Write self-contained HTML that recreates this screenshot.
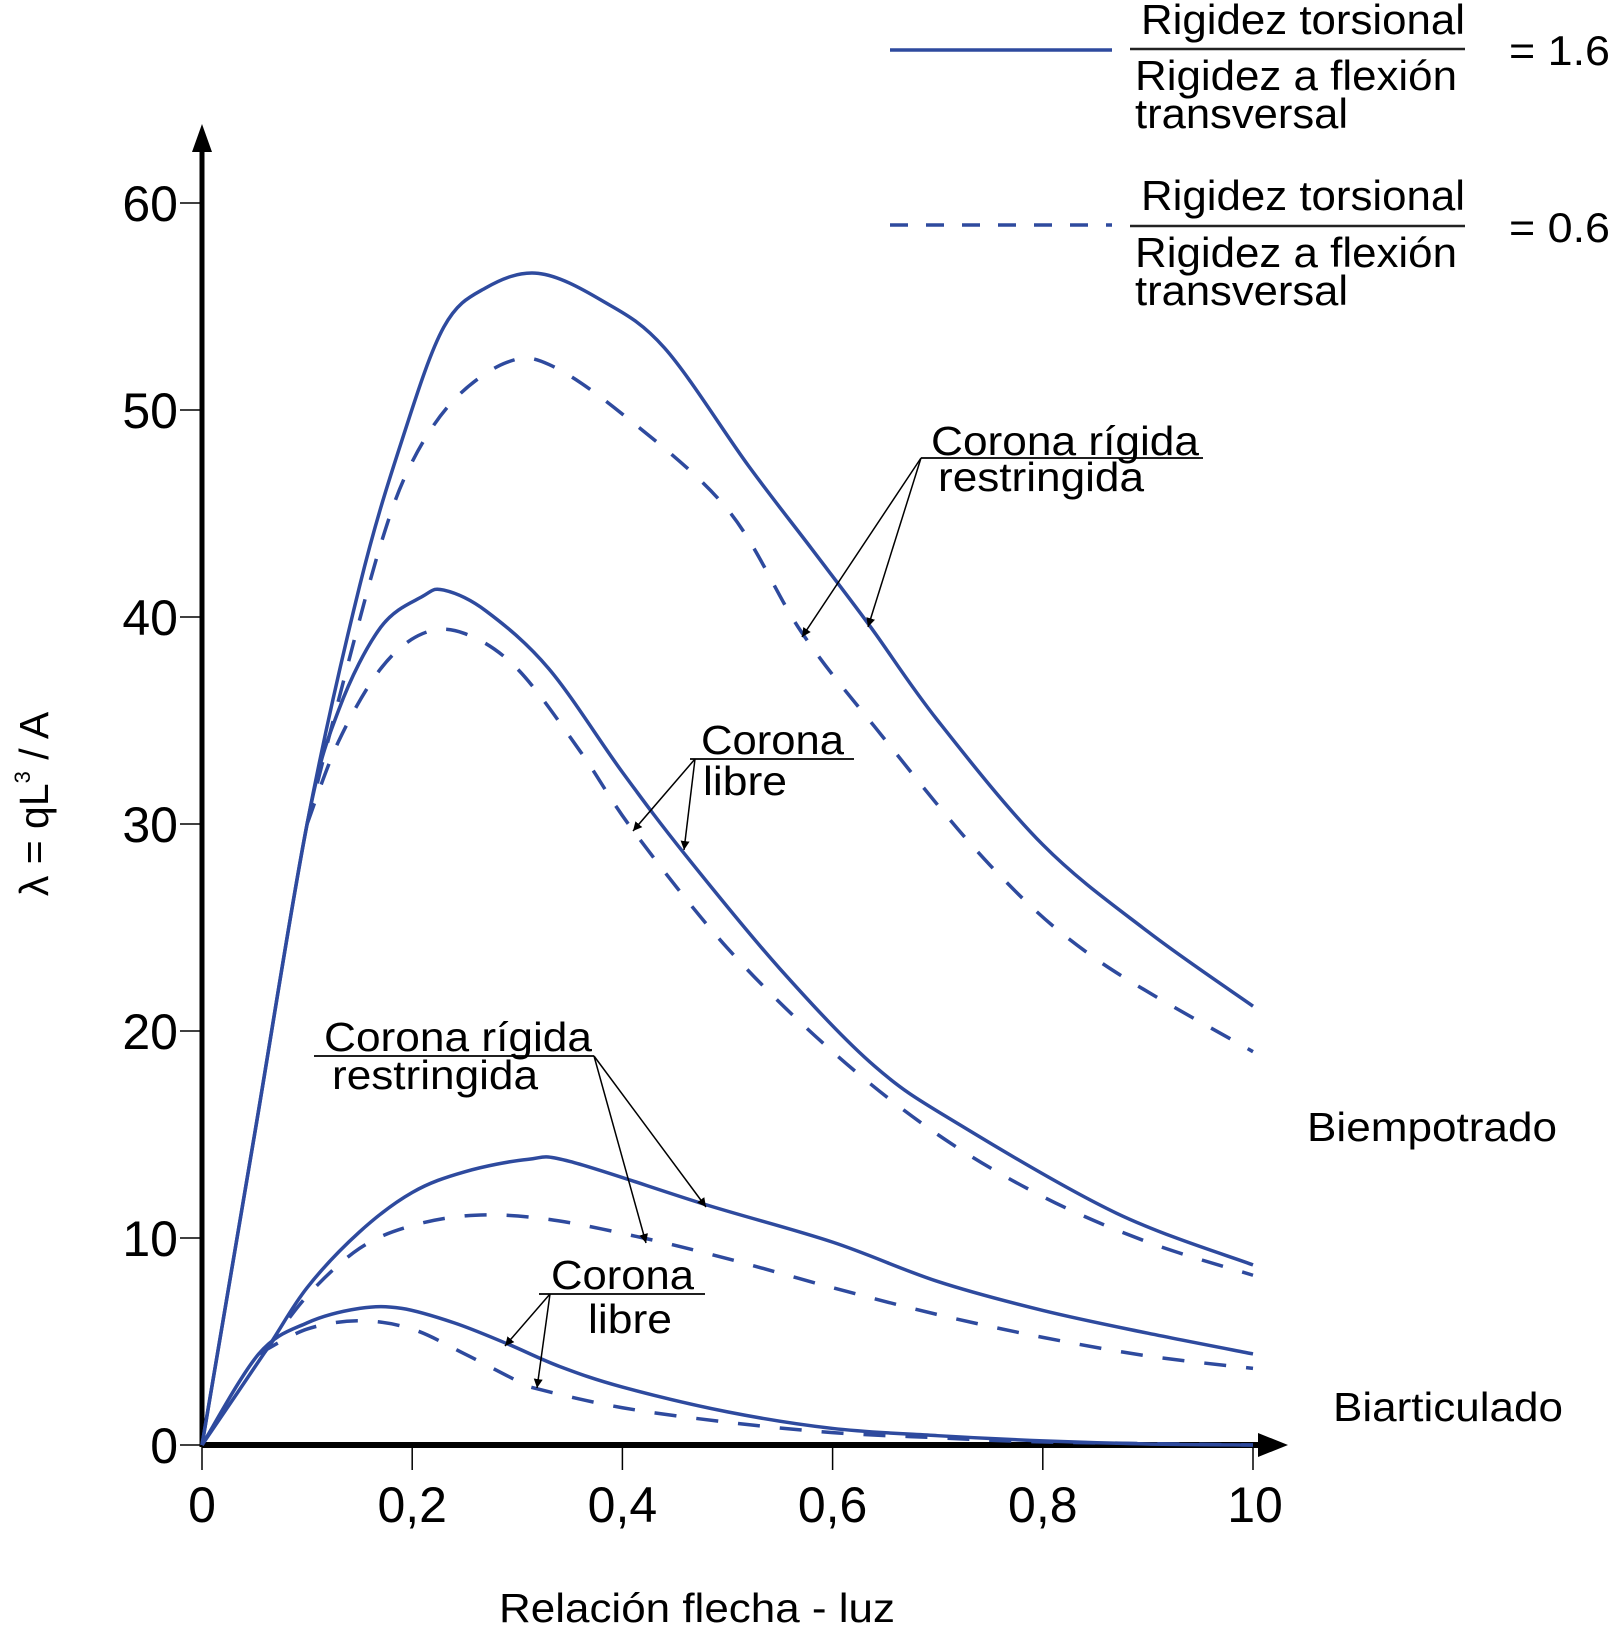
<!DOCTYPE html>
<html><head><meta charset="utf-8">
<style>
html,body{margin:0;padding:0;background:#fff;}
svg{display:block;font-family:"Liberation Sans",Arial,sans-serif;}
</style></head>
<body>
<svg id="chart" width="1610" height="1627" viewBox="0 0 1610 1627" xmlns="http://www.w3.org/2000/svg">
<defs>
<marker id="ah" viewBox="0 0 10 10" refX="10" refY="5" markerWidth="9" markerHeight="11" orient="auto" markerUnits="userSpaceOnUse"><path d="M0,0 L10,5 L0,10 z" fill="#000"/></marker>
</defs>
<g id="axes"></g>
<g id="series"></g>

<g>
<line x1="890" y1="50" x2="1112" y2="50" stroke="#2e4a9e" stroke-width="3.5"/>
<text x="1141" y="34" font-size="42" textLength="324" lengthAdjust="spacingAndGlyphs">Rigidez torsional</text>
<line x1="1130" y1="49" x2="1465" y2="49" stroke="#222" stroke-width="2.5"/>
<text x="1135" y="90" font-size="42" textLength="322" lengthAdjust="spacingAndGlyphs">Rigidez a flexión</text>
<text x="1135" y="128" font-size="42" textLength="213" lengthAdjust="spacingAndGlyphs">transversal</text>
<text x="1509" y="65" font-size="42" textLength="101" lengthAdjust="spacingAndGlyphs">= 1.6</text>

<line x1="890" y1="225" x2="1112" y2="225" stroke="#2e4a9e" stroke-width="3.5" stroke-dasharray="18,18"/>
<text x="1141" y="210" font-size="42" textLength="324" lengthAdjust="spacingAndGlyphs">Rigidez torsional</text>
<line x1="1130" y1="226" x2="1465" y2="226" stroke="#222" stroke-width="2.5"/>
<text x="1135" y="267" font-size="42" textLength="322" lengthAdjust="spacingAndGlyphs">Rigidez a flexión</text>
<text x="1135" y="305" font-size="42" textLength="213" lengthAdjust="spacingAndGlyphs">transversal</text>
<text x="1509" y="242" font-size="42" textLength="101" lengthAdjust="spacingAndGlyphs">= 0.6</text>
</g>

<g font-size="41">
<text x="931" y="455" textLength="268" lengthAdjust="spacingAndGlyphs">Corona rígida</text>
<text x="938" y="491" textLength="206" lengthAdjust="spacingAndGlyphs">restringida</text>
<line x1="921" y1="458" x2="1203" y2="458" stroke="#000" stroke-width="1.8"/>
<line x1="921" y1="458" x2="802" y2="637" stroke="#000" stroke-width="1.5" marker-end="url(#ah)"/>
<line x1="921" y1="458" x2="868" y2="627" stroke="#000" stroke-width="1.5" marker-end="url(#ah)"/>

<text x="701" y="754" textLength="143" lengthAdjust="spacingAndGlyphs">Corona</text>
<text x="703" y="795" textLength="84" lengthAdjust="spacingAndGlyphs">libre</text>
<line x1="690" y1="759" x2="854" y2="759" stroke="#000" stroke-width="1.8"/>
<line x1="695" y1="759" x2="633" y2="831" stroke="#000" stroke-width="1.5" marker-end="url(#ah)"/>
<line x1="695" y1="759" x2="684" y2="850" stroke="#000" stroke-width="1.5" marker-end="url(#ah)"/>

<text x="324" y="1051" textLength="268" lengthAdjust="spacingAndGlyphs">Corona rígida</text>
<text x="332" y="1089" textLength="206" lengthAdjust="spacingAndGlyphs">restringida</text>
<line x1="314" y1="1056" x2="594" y2="1056" stroke="#000" stroke-width="1.8"/>
<line x1="594" y1="1056" x2="706" y2="1207" stroke="#000" stroke-width="1.5" marker-end="url(#ah)"/>
<line x1="594" y1="1056" x2="646" y2="1243" stroke="#000" stroke-width="1.5" marker-end="url(#ah)"/>

<text x="551" y="1289" textLength="143" lengthAdjust="spacingAndGlyphs">Corona</text>
<text x="588" y="1333" textLength="84" lengthAdjust="spacingAndGlyphs">libre</text>
<line x1="539" y1="1294" x2="705" y2="1294" stroke="#000" stroke-width="1.8"/>
<line x1="550" y1="1294" x2="505" y2="1346" stroke="#000" stroke-width="1.5" marker-end="url(#ah)"/>
<line x1="550" y1="1294" x2="537" y2="1388" stroke="#000" stroke-width="1.5" marker-end="url(#ah)"/>

<text x="1307" y="1141" font-size="41" textLength="250" lengthAdjust="spacingAndGlyphs">Biempotrado</text>
<text x="1333" y="1421" font-size="41" textLength="230" lengthAdjust="spacingAndGlyphs">Biarticulado</text>
</g>

<text x="697" y="1622" font-size="41" text-anchor="middle" textLength="396" lengthAdjust="spacingAndGlyphs">Relación flecha - luz</text>
<g transform="translate(48,804) rotate(-90)">
<text x="0" y="0" font-size="41" text-anchor="middle">λ = qL<tspan font-size="22" dy="-18">3</tspan><tspan dy="18"> / A</tspan></text>
</g>
</svg>
<script>
const xTicks=[0,0.2,0.4,0.6,0.8,1.0];
const xTickLabels=["0","0,2","0,4","0,6","0,8","10"];
const yTicks=[0,10,20,30,40,50,60];
const yTickLabels=["0","10","20","30","40","50","60"];

const rigBiemSolidX=[0,0.05,0.1,0.15,0.19,0.23,0.27,0.32,0.38,0.44,0.52,0.58,0.635,0.7,0.8,0.9,1.0];
const rigBiemSolidY=[0,15,30,41.5,48.5,54,55.9,56.6,55.3,53,47.3,43.3,39.6,35,29,24.8,21.2];
const rigBiemDashX=[0.1,0.13,0.17,0.2,0.24,0.29,0.33,0.4,0.5,0.57,0.64,0.75,0.85,1.0];
const rigBiemDashY=[30,36,43.5,47.5,50.5,52.3,52.2,49.8,45.2,39.3,34.7,28,23.5,19];
const libBiemSolidX=[0,0.05,0.1,0.13,0.17,0.21,0.23,0.27,0.33,0.4,0.46,0.55,0.64,0.72,0.87,1.0];
const libBiemSolidY=[0,15,30,35.5,39.5,41,41.3,40.3,37.5,32.5,28.5,23,18.3,15.5,11.2,8.7];
const libBiemDashX=[0.1,0.13,0.17,0.21,0.25,0.3,0.36,0.41,0.5,0.6,0.7,0.8,0.9,1.0];
const libBiemDashY=[30,34,37.5,39.2,39.2,37.5,33.5,29.7,24,19,15,12,9.8,8.2];
const rigBiarSolidX=[0,0.06,0.1,0.15,0.2,0.25,0.31,0.35,0.48,0.6,0.7,0.8,0.9,1.0];
const rigBiarSolidY=[0,4.5,7.6,10.3,12.2,13.2,13.8,13.7,11.6,9.8,7.9,6.5,5.4,4.4];
const rigBiarDashX=[0.06,0.1,0.15,0.2,0.26,0.33,0.42,0.5,0.6,0.7,0.8,0.9,1.0];
const rigBiarDashY=[4.5,7.2,9.5,10.6,11.1,10.9,10.0,9,7.6,6.3,5.2,4.3,3.7];
const libBiarSolidX=[0,0.054,0.1,0.15,0.19,0.24,0.29,0.34,0.4,0.5,0.6,0.7,0.8,0.9,1.0];
const libBiarSolidY=[0,4.4,5.9,6.6,6.6,5.9,4.9,3.8,2.8,1.6,0.8,0.45,0.2,0.05,0];
const libBiarDashX=[0.054,0.1,0.15,0.2,0.25,0.3,0.32,0.4,0.5,0.6,0.7,0.8,1.0];
const libBiarDashY=[4.4,5.6,6.0,5.6,4.4,3.1,2.7,1.8,1.1,0.6,0.35,0.15,0];

const NS="http://www.w3.org/2000/svg";
function X(v){return 202+v*1051;}
function Y(v){return 1445-v*20.7;}
function mk(tag,parent){const e=document.createElementNS(NS,tag);parent.appendChild(e);return e;}

const axes=document.getElementById('axes');
let ya=mk('line',axes);ya.setAttribute('x1',X(0));ya.setAttribute('y1',Y(0)+2);ya.setAttribute('x2',X(0));ya.setAttribute('y2',150);
ya.setAttribute('stroke','#000');ya.setAttribute('stroke-width','5');


let yar=mk('path',axes);yar.setAttribute('d','M'+(X(0)-10)+',152 L'+X(0)+',124 L'+(X(0)+10)+',152 z');


let xa=mk('line',axes);xa.setAttribute('x1',X(0));xa.setAttribute('y1',Y(0));xa.setAttribute('x2',1262);xa.setAttribute('y2',Y(0));
xa.setAttribute('stroke','#000');xa.setAttribute('stroke-width','6');


let xar=mk('path',axes);xar.setAttribute('d','M1258,'+(Y(0)-12)+' L1288,'+Y(0)+' L1258,'+(Y(0)+12)+' z');



xTicks.forEach(function(t,i){
  const l=mk('line',axes);l.setAttribute('x1',X(t));l.setAttribute('x2',X(t));l.setAttribute('y1',Y(0));l.setAttribute('y2',Y(0)+25);
  l.setAttribute('stroke','#000');l.setAttribute('stroke-width','1.5');
  
  
  const tx=mk('text',axes);tx.setAttribute('x',X(t)+(i==5?2:0));tx.setAttribute('y',1522);tx.setAttribute('font-size','50');tx.setAttribute('text-anchor','middle');
  tx.textContent=xTickLabels[i];
  
  
});
yTicks.forEach(function(t,i){
  const l=mk('line',axes);l.setAttribute('x1',X(0)-22);l.setAttribute('x2',X(0));l.setAttribute('y1',Y(t));l.setAttribute('y2',Y(t));
  l.setAttribute('stroke','#000');l.setAttribute('stroke-width','1.5');
  
  
  const tx=mk('text',axes);tx.setAttribute('x',178);tx.setAttribute('y',Y(t)+18);tx.setAttribute('font-size','50');tx.setAttribute('text-anchor','end');
  tx.textContent=yTickLabels[i];
  
  
});

function pathD(xs,ys){
  const p=xs.map(function(x,i){return [X(x),Y(ys[i])];});
  let d='M'+p[0][0]+','+p[0][1];
  for(let i=0;i<p.length-1;i++){
    const p0=p[Math.max(0,i-1)],p1=p[i],p2=p[i+1],p3=p[Math.min(p.length-1,i+2)];
    const c1x=p1[0]+(p2[0]-p0[0])/6,c1y=p1[1]+(p2[1]-p0[1])/6;
    const c2x=p2[0]-(p3[0]-p1[0])/6,c2y=p2[1]-(p3[1]-p1[1])/6;
    d+=' C'+c1x+','+c1y+' '+c2x+','+c2y+' '+p2[0]+','+p2[1];
  }
  return d;
}
const series=document.getElementById('series');
function draw(xs,ys,dashed,name){
  const e=mk('path',series);
  e.setAttribute('d',pathD(xs,ys));
  e.setAttribute('fill','none');e.setAttribute('stroke','#2e4a9e');e.setAttribute('stroke-width','3.5');
  if(dashed)e.setAttribute('stroke-dasharray','22,20');
  
  
}
draw(rigBiemSolidX,rigBiemSolidY,false,'curve-rigida-biempotrado-1-6');
draw(rigBiemDashX,rigBiemDashY,true,'curve-rigida-biempotrado-0-6');
draw(libBiemSolidX,libBiemSolidY,false,'curve-libre-biempotrado-1-6');
draw(libBiemDashX,libBiemDashY,true,'curve-libre-biempotrado-0-6');
draw(rigBiarSolidX,rigBiarSolidY,false,'curve-rigida-biarticulado-1-6');
draw(rigBiarDashX,rigBiarDashY,true,'curve-rigida-biarticulado-0-6');
draw(libBiarSolidX,libBiarSolidY,false,'curve-libre-biarticulado-1-6');
draw(libBiarDashX,libBiarDashY,true,'curve-libre-biarticulado-0-6');
</script>
</body></html>
